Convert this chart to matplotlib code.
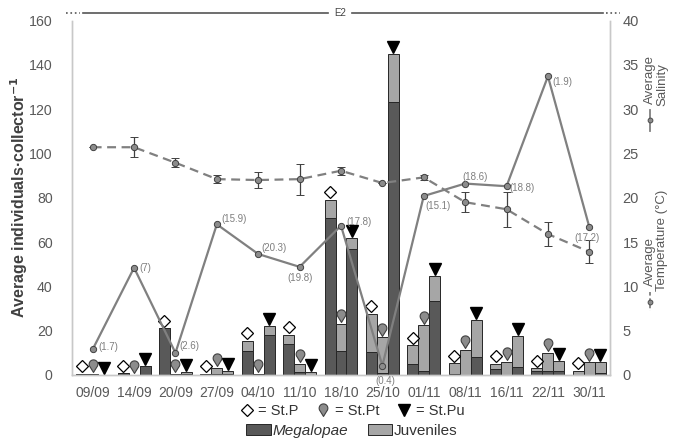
import numpy as np
import matplotlib
matplotlib.use('Agg')
import matplotlib.pyplot as plt
from matplotlib.lines import Line2D
from matplotlib.patches import Patch
from matplotlib.path import Path
from matplotlib.transforms import offset_copy

plt.rcParams['font.family'] = ['Liberation Sans', 'DejaVu Sans']

dates = ['09/09', '14/09', '20/09', '27/09', '04/10', '11/10', '18/10',
         '25/10', '01/11', '08/11', '16/11', '22/11', '30/11']

# Megalopae / juveniles per station (individuals per collector)
meg_P = [0.5, 0.8, 21, 0.4, 11, 14, 71, 10.5, 5, 0.5, 2.5, 2, 0]
juv_P = [0.0, 0.0, 0, 0.0, 4.5, 4, 8, 17, 8.4, 4.8, 2.5, 1, 1.8]
meg_Pt = [0.3, 0.2, 0.5, 0.3, 0.4, 1.5, 11, 1, 2, 0, 0, 2, 0]
juv_Pt = [0.2, 0.0, 0.0, 3.0, 0.0, 3.5, 12, 16, 20.4, 11.3, 5.9, 8, 5.7]
meg_Pu = [0.2, 4, 0.3, 0.3, 18, 0, 57, 123, 33.5, 8, 3.5, 2, 1]
juv_Pu = [0.0, 0, 1.2, 1.7, 4, 1.2, 5, 22, 11, 17, 14, 4.3, 5]

salinity = [2.9, 12.1, 2.5, 17.0, 13.65, 12.2, 16.85, 1.05, 20.2, 21.6, 21.3, 33.7, 16.7]
sal_labels = ['(1.7)', '(7)', '(2.6)', '(15.9)', '(20.3)', '(19.8)', '(17.8)',
              '(0.4)', '(15.1)', '(18.6)', '(18.8)', '(1.9)', '(17.2)']
temperature = [25.7, 25.7, 23.95, 22.1, 22.0, 22.1, 23.05, 21.66, 22.3, 19.5, 18.7, 15.9, 13.9]
temp_err = [0, 1.1, 0.5, 0.45, 0.95, 1.75, 0.45, 0, 0.3, 1.15, 1.95, 1.35, 1.3]

# label placement (points offset, ha)
lab_style = [((4, 2), 'left'), ((4, 0), 'left'), ((3, 5), 'left'), ((3, 4), 'left'),
             ((2, 4), 'left'), ((0, -8), 'center'), ((4, 3), 'left'), ((2, -11), 'center'),
             ((1, -7), 'left'), ((-2, 5), 'left'), ((2, -1), 'left'), ((3, -4), 'left'),
             ((-2, -8), 'center')]

MEG = '#595959'
JUV = '#a6a6a6'
EDGE = '#262626'
LINE = '#808080'
TXT = '#595959'
SPINE = '#c8c8c8'

fig = plt.figure(figsize=(6.81, 4.42), dpi=100)
ax = fig.add_axes([72 / 681, 1 - 375 / 442, 538 / 681, 354.5 / 442])
ax2 = ax.twinx()

x = np.arange(len(dates))
w = 0.265
stations = [(meg_P, juv_P, -w), (meg_Pt, juv_Pt, 0.0), (meg_Pu, juv_Pu, w)]
for meg, juv, off in stations:
    ax.bar(x + off, meg, w, color=MEG, edgecolor=EDGE, linewidth=0.7, zorder=2)
    ax.bar(x + off, juv, w, bottom=meg, color=JUV, edgecolor=EDGE, linewidth=0.7, zorder=2)

# pear-shaped marker
th = np.deg2rad(np.linspace(-40, 220, 40))
pv = [(0.62 * np.cos(t), 0.32 + 0.62 * np.sin(t)) for t in th] + [(0, -0.85), (0, -0.85)]
codes = [Path.MOVETO] + [Path.LINETO] * (len(pv) - 2) + [Path.CLOSEPOLY]
pear = Path(pv, codes)

mtrans = offset_copy(ax.transData, fig=fig, y=5.5, units='points')
totP = np.add(meg_P, juv_P)
totPt = np.add(meg_Pt, juv_Pt)
totPu = np.add(meg_Pu, juv_Pu)
ax.plot(x - w, totP, ls='', marker='D', ms=5.8, mfc='white', mec='black', mew=0.9,
        transform=mtrans, zorder=4, clip_on=False)
ax.plot(x, totPt, ls='', marker=pear, ms=9.5, mfc='#8c8c8c', mec='#404040', mew=0.8,
        transform=mtrans, zorder=4, clip_on=False)
mtrans2 = offset_copy(ax.transData, fig=fig, y=5, units='points')
ax.plot(x + w, totPu, ls='', marker='v', ms=8.5, color='black',
        transform=mtrans2, zorder=4, clip_on=False)

ax.set_xlim(-0.5, len(dates) - 0.5)
ax.set_ylim(0, 160)
ax.set_yticks(np.arange(0, 161, 20))
ax.set_xticks(x)
ax.set_xticklabels(dates)
ax2.set_ylim(0, 40)
ax2.set_yticks(np.arange(0, 41, 5))

for a in (ax, ax2):
    for s in a.spines.values():
        s.set_color(SPINE)
        s.set_linewidth(1.0)
    a.spines['top'].set_visible(False)
ax.tick_params(axis='y', length=0, pad=14, labelsize=10.2, labelcolor=TXT)
ax.tick_params(axis='x', length=0, pad=8, labelsize=10, labelcolor=TXT)
ax2.tick_params(axis='y', length=0, pad=9, labelsize=10.5, labelcolor=TXT)

# temperature (dashed with error bars)
ax2.errorbar(x, temperature, yerr=temp_err, fmt='o', ls='--', color=LINE, lw=1.6,
             ms=4.5, mfc='#8c8c8c', mec='#404040', mew=0.7,
             ecolor='#404040', elinewidth=0.9, capsize=3, capthick=0.9,
             dashes=(4, 2.5), zorder=3)
# salinity (solid)
ax2.plot(x, salinity, '-o', color=LINE, lw=1.6, ms=4.5, mfc='#8c8c8c', mec='#404040',
         mew=0.7, zorder=5)
for xi, yi, lab, ((dx, dy), ha) in zip(x, salinity, sal_labels, lab_style):
    ax2.annotate(lab, (xi, yi), xytext=(dx, dy), textcoords='offset points',
                 ha=ha, va='center', fontsize=7, color='#7f7f7f', zorder=6,
                 annotation_clip=False)

# y-axis title
fig.text(19 / 681, 1 - 197 / 442, 'Average individuals·collector$^{\\mathbf{-1}}$',
         rotation=90, ha='center', va='center', fontsize=11.5, fontweight='bold',
         color='#404040')

# right axis titles (legend-like)
def vsym(xf, y0, y1, dashed):
    yc = (y0 + y1) / 2
    fig.add_artist(Line2D([xf / 681, xf / 681], [1 - y0 / 442, 1 - y1 / 442],
                          transform=fig.transFigure, color=LINE, lw=1.3,
                          ls='--' if dashed else '-', dashes=(2, 1.5) if dashed else (None, None)))
    fig.add_artist(Line2D([xf / 681], [1 - yc / 442], transform=fig.transFigure,
                          marker='o', ms=3.5, mfc='#8c8c8c', mec='#404040', mew=0.6, ls=''))

fig.text(650 / 681, 1 - 80 / 442, 'Average', rotation=90, ha='center', va='center',
         fontsize=9.5, color=TXT)
fig.text(662 / 681, 1 - 85 / 442, 'Salinity', rotation=90, ha='center', va='center',
         fontsize=9.5, color=TXT)
vsym(650, 110, 131, False)
fig.text(650 / 681, 1 - 262 / 442, 'Average', rotation=90, ha='center', va='center',
         fontsize=9.5, color=TXT)
fig.text(662 / 681, 1 - 240 / 442, 'Temperature (°C)', rotation=90, ha='center',
         va='center', fontsize=9.5, color=TXT)
vsym(650, 292, 311, True)

# top E2 header
yl = 1 - 13 / 442
fig.add_artist(Line2D([83 / 681, 328 / 681], [yl, yl], transform=fig.transFigure,
                      color='#555555', lw=1.2))
fig.add_artist(Line2D([352 / 681, 603 / 681], [yl, yl], transform=fig.transFigure,
                      color='#555555', lw=1.2))
for xa, xb in ((66, 80), (606, 620)):
    fig.add_artist(Line2D([xa / 681, xb / 681], [yl, yl], transform=fig.transFigure,
                          color='#555555', lw=1.2, ls=':'))
fig.text(340 / 681, yl, 'E2', ha='center', va='center', fontsize=7, color='#444444')

# legends below
h1 = [Line2D([], [], ls='', marker='D', ms=5.8, mfc='white', mec='black', mew=0.9),
      Line2D([], [], ls='', marker=pear, ms=9.5, mfc='#8c8c8c', mec='#404040', mew=0.8),
      Line2D([], [], ls='', marker='v', ms=8.5, color='black')]
leg1 = fig.legend(h1, ['= St.P', '= St.Pt', '= St.Pu'], loc='center',
                  bbox_to_anchor=(352 / 681, 1 - 411 / 442), ncol=3, frameon=False,
                  fontsize=10.5, handlelength=1.0, handletextpad=0.3, columnspacing=1.2,
                  labelcolor='#333333', borderpad=0)
h2 = [Patch(facecolor=MEG, edgecolor=EDGE, linewidth=0.7),
      Patch(facecolor=JUV, edgecolor=EDGE, linewidth=0.7)]
leg2 = fig.legend(h2, ['Megalopae', 'Juveniles'], loc='center',
                  bbox_to_anchor=(352 / 681, 1 - 431 / 442), ncol=2, frameon=False,
                  fontsize=11, handlelength=1.6, handleheight=0.7, handletextpad=0.1,
                  columnspacing=1.3, labelcolor='#333333', borderpad=0)
leg2.get_texts()[0].set_fontstyle('italic')

fig.savefig('out.png', dpi=100)
